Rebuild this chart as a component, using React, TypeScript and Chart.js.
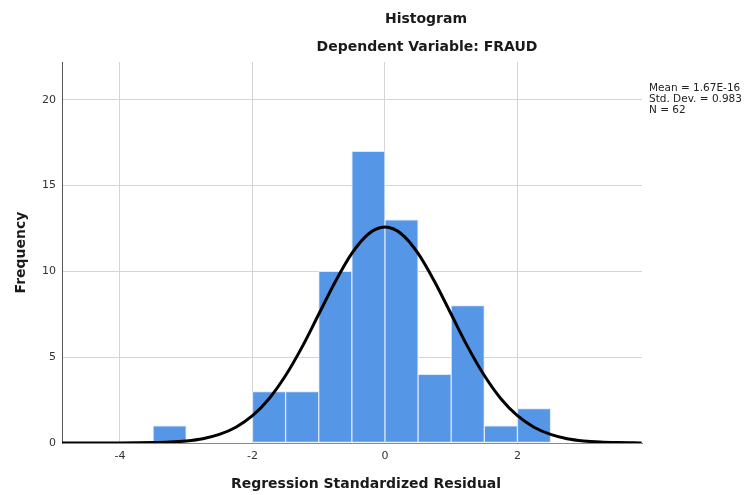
import React, { useEffect, useRef } from "react";
import { Chart, registerables } from "chart.js";

Chart.register(...registerables);

const binCenters = [-3.25, -1.75, -1.25, -0.75, -0.25, 0.25, 0.75, 1.25, 1.75, 2.25];
const counts = [1, 3, 3, 10, 17, 13, 4, 8, 1, 2];

const curveX = [-4.875, -4.75, -4.5, -4.25, -4, -3.75, -3.5, -3.25, -3, -2.75, -2.5, -2.25, -2, -1.75, -1.5, -1.25, -1, -0.75, -0.5, -0.25, 0, 0.25, 0.5, 0.75, 1, 1.25, 1.5, 1.75, 2, 2.25, 2.5, 2.75, 3, 3.25, 3.5, 3.75, 3.875];
const curveY = [0, 0, 0, 0.001, 0.003, 0.009, 0.022, 0.053, 0.12, 0.25, 0.5, 0.92, 1.59, 2.58, 3.93, 5.6, 7.5, 9.4, 11.05, 12.18, 12.58, 12.18, 11.05, 9.4, 7.5, 5.6, 3.93, 2.58, 1.59, 0.92, 0.5, 0.25, 0.12, 0.053, 0.022, 0.009, 0.005];

const xTicks = [-4, -2, 0, 2];
const yTicks = [0, 5, 10, 15, 20];

const titleText = "Histogram";
const subtitleText = "Dependent Variable: FRAUD";
const xTitle = "Regression Standardized Residual";
const yTitle = "Frequency";
const statsLines = ["Mean = 1.67E-16", "Std. Dev. = 0.983", "N = 62"];

const FONT = "'DejaVu Sans', sans-serif";

const textPlugin = {
  id: "textPlugin",
  afterDraw(chart: any) {
    const ctx = chart.ctx;
    const a = chart.chartArea;
    ctx.save();
    ctx.fillStyle = "#1a1a1a";
    ctx.textAlign = "center";
    ctx.textBaseline = "middle";
    ctx.font = `bold 14px ${FONT}`;
    ctx.fillText(titleText, 426, 19);
    ctx.fillText(subtitleText, 427, 47);
    ctx.fillText(xTitle, 366, 484);
    ctx.save();
    ctx.translate(21, (a.top + a.bottom) / 2);
    ctx.rotate(-Math.PI / 2);
    ctx.fillText(yTitle, 0, 0);
    ctx.restore();
    ctx.font = `10.5px ${FONT}`;
    ctx.textAlign = "left";
    ctx.fillStyle = "#222";
    statsLines.forEach((s, i) => ctx.fillText(s, 649, 88 + i * 11));
    ctx.restore();
  },
};

export default function App() {
  const ref = useRef<HTMLCanvasElement>(null);
  useEffect(() => {
    if (!ref.current) return;
    const chart = new Chart(ref.current, {
      type: "bar",
      data: {
        datasets: [
          {
            type: "line",
            data: curveX.map((x, i) => ({ x, y: curveY[i] })),
            borderColor: "#000",
            borderWidth: 3,
            pointRadius: 0,
            cubicInterpolationMode: "monotone",
            fill: false,
            order: 0,
          } as any,
          {
            type: "bar",
            data: binCenters.map((x, i) => ({ x, y: counts[i] })),
            backgroundColor: "#5596e6",
            borderColor: "#dbe8f8",
            borderWidth: 1,
            borderSkipped: false,
            barPercentage: 1,
            categoryPercentage: 1,
            grouped: false,
            order: 1,
          } as any,
        ],
      },
      options: {
        animation: false,
        responsive: false,
        maintainAspectRatio: false,
        layout: { padding: { top: 62, right: 103, left: 0, bottom: 0 } },
        plugins: { legend: { display: false }, tooltip: { enabled: false } },
        scales: {
          x: {
            type: "linear",
            offset: false,
            min: -4.875,
            max: 3.88,
            afterBuildTicks: (s: any) => {
              s.ticks = xTicks.map((v) => ({ value: v }));
            },
            afterFit: (s: any) => {
              s.height = 52;
            },
            grid: { color: "#d4d4d4", drawTicks: false, lineWidth: 1, offset: false },
            border: { color: "#7f8c9c", width: 1 },
            ticks: { color: "#333", font: { size: 11, family: FONT }, padding: 7 },
          },
          y: {
            type: "linear",
            min: 0,
            max: 22.2,
            afterBuildTicks: (s: any) => {
              s.ticks = yTicks.map((v) => ({ value: v }));
            },
            afterFit: (s: any) => {
              s.width = 62;
            },
            grid: { color: "#d4d4d4", drawTicks: false, lineWidth: 1 },
            border: { color: "#555", width: 1 },
            ticks: { color: "#333", font: { size: 11, family: FONT }, padding: 6 },
          },
        },
      },
      plugins: [textPlugin],
    });
    return () => chart.destroy();
  }, []);
  return (
    <div style={{ position: "fixed", left: 0, top: 0, width: 745, height: 495, background: "#fff" }}>
      <canvas ref={ref} width={745} height={495} style={{ width: 745, height: 495 }} />
    </div>
  );
}
